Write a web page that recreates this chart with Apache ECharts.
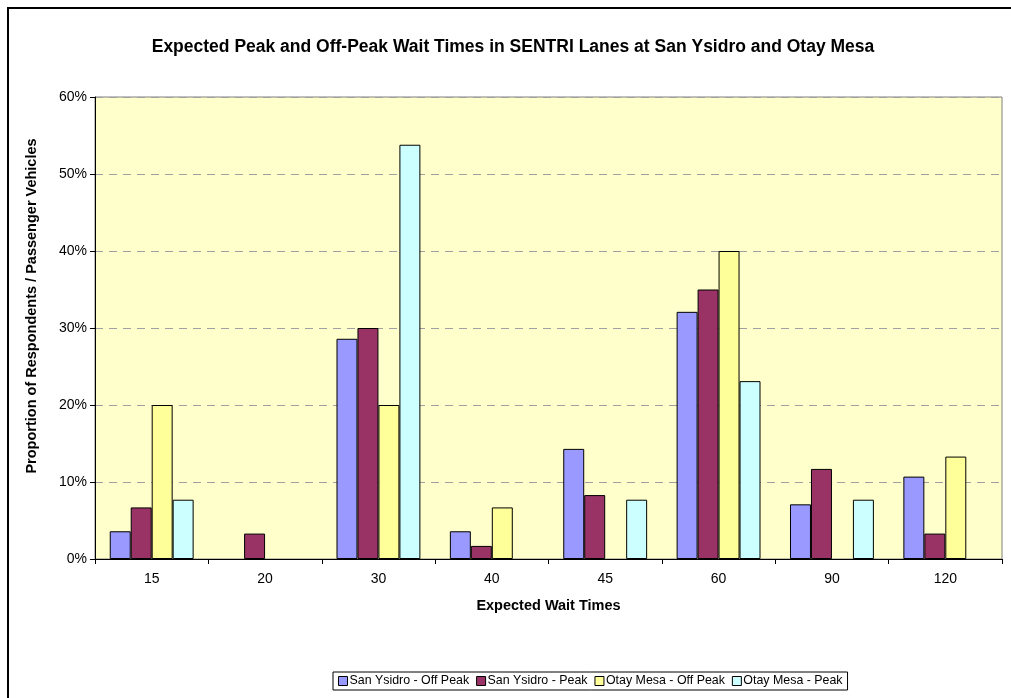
<!DOCTYPE html>
<html>
<head>
<meta charset="utf-8">
<script src="https://cdn.jsdelivr.net/npm/echarts@6/dist/echarts.min.js"></script>
<style>
  html, body { margin: 0; padding: 0; background: #fff; }
  #chart { width: 1011px; height: 698px; }
</style>
</head>
<body>
<div id="chart"></div>
<script>
const waitTimes = ['15', '20', '30', '40', '45', '60', '90', '120'];

// null = no bar drawn for that wait time
const sanYsidroOffPeak = [3.6, null, 28.6, 3.6, 14.3, 32.1, 7.1, 10.7];
const sanYsidroPeak = [6.7, 3.3, 30.0, 1.7, 8.3, 35.0, 11.7, 3.3];
const otayMesaOffPeak = [20.0, null, 20.0, 6.7, null, 40.0, null, 13.3];
const otayMesaPeak = [7.7, null, 53.8, null, 7.7, 23.1, 7.7, null];

const seriesNames = ['San Ysidro - Off Peak', 'San Ysidro - Peak', 'Otay Mesa - Off Peak', 'Otay Mesa - Peak'];
const seriesColors = ['#9999FF', '#993366', '#FFFF99', '#CCFFFF'];

const chart = echarts.init(document.getElementById('chart'));

const makeSeries = (name, data, color) => ({
    name: name,
    type: 'bar',
    data: data,
    barGap: '0%',
    barCategoryGap: '26%',
    itemStyle: {
        color: color,
        borderColor: '#000',
        borderWidth: 1
    }
});

chart.setOption({
    animation: false,
    textStyle: { fontFamily: 'Arial, "Liberation Sans", sans-serif' },
    title: {
        text: 'Expected Peak and Off-Peak Wait Times in SENTRI Lanes at San Ysidro and Otay Mesa',
        left: 508,
        textAlign: 'center',
        top: 33,
        textStyle: { fontSize: 17.5, fontWeight: 'bold', color: '#000' }
    },
    graphic: [{
        type: 'rect',
        shape: { x: 8, y: 8, width: 1010, height: 700 },
        style: { fill: 'none', stroke: '#000', lineWidth: 2 },
        silent: true
    }],
    legend: {
        bottom: 8,
        left: 333,
        itemWidth: 9,
        itemHeight: 9,
        itemGap: 7,
        icon: 'rect',
        padding: [3, 5, 3, 5],
        borderColor: '#000',
        borderWidth: 1,
        textStyle: { fontSize: 12.4, color: '#000', padding: [0, 0, 0, -3] },
        itemStyle: { borderColor: '#000', borderWidth: 1 },
        data: seriesNames
    },
    grid: {
        left: 95,
        right: 9,
        top: 97,
        bottom: 139,
        show: true,
        backgroundColor: '#FFFFCC',
        borderColor: '#808080',
        borderWidth: 1
    },
    xAxis: {
        type: 'category',
        data: waitTimes,
        name: 'Expected Wait Times',
        nameLocation: 'middle',
        nameGap: 39,
        nameTextStyle: { fontSize: 14.5, fontWeight: 'bold', color: '#000' },
        axisLine: { lineStyle: { color: '#000' } },
        axisTick: { show: true, length: 5, lineStyle: { color: '#000' } },
        axisLabel: { fontSize: 14, color: '#000', margin: 13 }
    },
    yAxis: {
        type: 'value',
        min: 0,
        max: 60,
        interval: 10,
        name: 'Proportion of Respondents / Passenger Vehicles',
        nameLocation: 'middle',
        nameGap: 56,
        nameTextStyle: { fontSize: 14.5, fontWeight: 'bold', color: '#000', padding: [0, 0, 0, 44] },
        axisLine: { show: true, lineStyle: { color: '#000' } },
        axisTick: { show: true, length: 5, lineStyle: { color: '#000' } },
        axisLabel: { fontSize: 14, color: '#000', margin: 8, formatter: '{value}%' },
        splitLine: { lineStyle: { color: '#A0A0A0', type: [8, 6] } }
    },
    series: [
        makeSeries(seriesNames[0], sanYsidroOffPeak, seriesColors[0]),
        makeSeries(seriesNames[1], sanYsidroPeak, seriesColors[1]),
        makeSeries(seriesNames[2], otayMesaOffPeak, seriesColors[2]),
        makeSeries(seriesNames[3], otayMesaPeak, seriesColors[3])
    ]
});
</script>
</body>
</html>
